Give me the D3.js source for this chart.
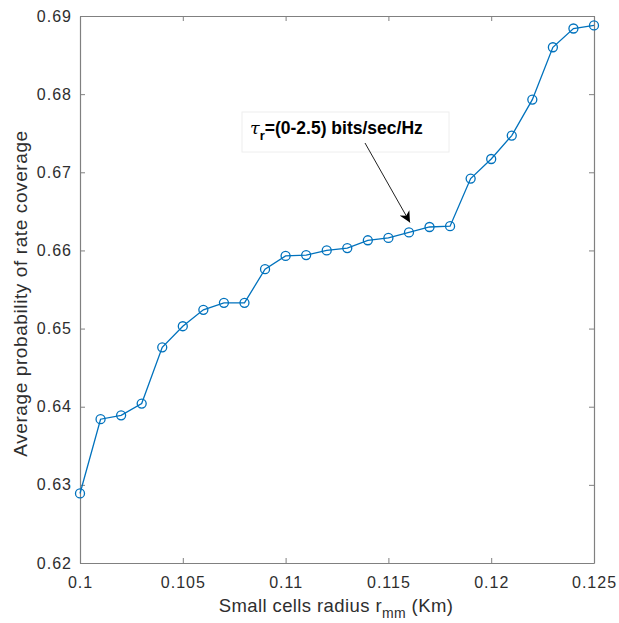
<!DOCTYPE html>
<html>
<head>
<meta charset="utf-8">
<script src="https://cdn.jsdelivr.net/npm/d3@7"></script>
<style>
  html, body { margin: 0; padding: 0; background: #fff; }
  svg { display: block; font-family: "Liberation Sans", Arial, Helvetica, sans-serif; }
</style>
</head>
<body>
<svg id="chart" width="619" height="623"></svg>
<script>
// Small cell radius r_mm (Km)
const radius = [0.100, 0.101, 0.102, 0.103, 0.104, 0.105, 0.106, 0.107, 0.108, 0.109,
                0.110, 0.111, 0.112, 0.113, 0.114, 0.115, 0.116, 0.117, 0.118, 0.119,
                0.120, 0.121, 0.122, 0.123, 0.124, 0.125];
// Average probability of rate coverage
const coverage = [0.6289, 0.6384, 0.6389, 0.6404, 0.6476, 0.6503, 0.6524, 0.6533, 0.6533, 0.6576,
                  0.6593, 0.6594, 0.6600, 0.6603, 0.6613, 0.6616, 0.6623, 0.6630, 0.6631, 0.6692,
                  0.6717, 0.6747, 0.6793, 0.6860, 0.6884, 0.6888];
const xTicks = [0.1, 0.105, 0.11, 0.115, 0.12, 0.125];
const xTickLabels = ["0.1", "0.105", "0.11", "0.115", "0.12", "0.125"];
const yTicks = [0.62, 0.63, 0.64, 0.65, 0.66, 0.67, 0.68, 0.69];
const yTickLabels = ["0.62", "0.63", "0.64", "0.65", "0.66", "0.67", "0.68", "0.69"];

const svg = d3.select("#chart");
const plotL = 80, plotR = 594, plotT = 16, plotB = 563;
const x = d3.scaleLinear().domain([0.1, 0.125]).range([plotL, plotR]);
const y = d3.scaleLinear().domain([0.62, 0.69]).range([plotB, plotT]);

const axisColor = "#808080";
const textColor = "#2e2e2e";

function styleAxis(g) {
  g.select(".domain").attr("stroke", axisColor).attr("stroke-width", 1.2);
  g.selectAll(".tick line").attr("stroke", axisColor).attr("stroke-width", 1);
  g.selectAll(".tick text").attr("fill", textColor).attr("font-size", 16)
    .attr("letter-spacing", 1);
}

// bottom axis with inward ticks
svg.append("g").attr("transform", `translate(0,${plotB})`)
  .call(d3.axisBottom(x).tickValues(xTicks).tickFormat((d, i) => xTickLabels[i])
        .tickSizeInner(-5).tickSizeOuter(0).tickPadding(14))
  .call(styleAxis);
// top axis (box) ticks without labels
svg.append("g").attr("transform", `translate(0,${plotT})`)
  .call(d3.axisTop(x).tickValues(xTicks).tickFormat("").tickSizeInner(-5).tickSizeOuter(0))
  .call(styleAxis);
// left axis
svg.append("g").attr("transform", `translate(${plotL},0)`)
  .call(d3.axisLeft(y).tickValues(yTicks).tickFormat((d, i) => yTickLabels[i])
        .tickSizeInner(-5).tickSizeOuter(0).tickPadding(8))
  .call(styleAxis);
// right axis (box)
svg.append("g").attr("transform", `translate(${plotR},0)`)
  .call(d3.axisRight(y).tickValues(yTicks).tickFormat("").tickSizeInner(-5).tickSizeOuter(0))
  .call(styleAxis);

// axis titles
const xl = svg.append("text").attr("x", 336).attr("y", 612)
  .attr("text-anchor", "middle").attr("font-size", 18.5).attr("letter-spacing", 0.4)
  .attr("fill", textColor);
xl.append("tspan").text("Small cells radius r");
xl.append("tspan").attr("font-size", 14).attr("dy", 6).text("mm");
xl.append("tspan").attr("dy", -6).text(" (Km)");

svg.append("text")
  .attr("transform", `translate(27,293.5) rotate(-90)`)
  .attr("text-anchor", "middle").attr("font-size", 19).attr("letter-spacing", 0.6)
  .attr("fill", textColor)
  .text("Average probability of rate coverage");

// data line and circle markers
const pts = radius.map((r, i) => [r, coverage[i]]);
const blue = "#0072BD";
svg.append("path").datum(pts)
  .attr("fill", "none").attr("stroke", blue).attr("stroke-width", 1.3)
  .attr("d", d3.line().x(d => x(d[0])).y(d => y(d[1])));
svg.append("g").selectAll("circle").data(pts).join("circle")
  .attr("cx", d => x(d[0])).attr("cy", d => y(d[1])).attr("r", 4.5)
  .attr("fill", "none").attr("stroke", blue).attr("stroke-width", 1.3);

// annotation box, text and arrow
svg.append("rect").attr("x", 242).attr("y", 112).attr("width", 207).attr("height", 40)
  .attr("fill", "#fff").attr("stroke", "#eeeeee").attr("stroke-width", 1);
const at = svg.append("text").attr("x", 250).attr("y", 134)
  .attr("font-size", 17.5).attr("font-weight", "bold").attr("fill", "#000");
at.append("tspan").attr("font-style", "italic").attr("font-weight", "normal")
  .attr("font-family", "'DejaVu Serif', serif").text("τ");
at.append("tspan").attr("font-size", 13).attr("dy", 6).text("r");
at.append("tspan").attr("dy", -6).text("=(0-2.5) bits/sec/Hz");

const defs = svg.append("defs");
defs.append("marker").attr("id", "ah").attr("viewBox", "0 0 10 10")
  .attr("refX", 10).attr("refY", 5).attr("markerWidth", 11).attr("markerHeight", 11)
  .attr("markerUnits", "userSpaceOnUse").attr("orient", "auto")
  .append("path").attr("d", "M0,0 L10,5 L0,10 L3,5 Z").attr("fill", "#000");
svg.append("line").attr("x1", 365).attr("y1", 143)
  .attr("x2", x(0.116) + 1).attr("y2", y(coverage[16]) - 10)
  .attr("stroke", "#222").attr("stroke-width", 1).attr("marker-end", "url(#ah)");
</script>
</body>
</html>
